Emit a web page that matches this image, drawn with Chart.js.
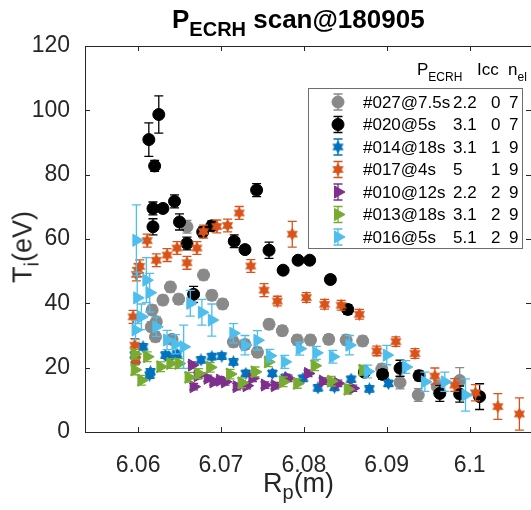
<!DOCTYPE html>
<html>
<head>
<meta charset="utf-8">
<script src="https://cdn.jsdelivr.net/npm/chart.js@4/dist/chart.umd.min.js"></script>
<style>
body { margin: 0; background: #fff; }
#wrap { position: relative; width: 531px; height: 510px; font-family: "Liberation Sans", Arial, sans-serif; color: #000; }
#myChart { position: absolute; left: 0; top: 0; }
.t { position: absolute; white-space: pre; line-height: 1; }
.sub { position: relative; }
</style>
</head>
<body>
<div id="wrap">
  <canvas id="myChart" width="531" height="510"></canvas>
  <div class="t" style="left:172px;top:6px;font-size:26px;font-weight:bold;">P<span class="sub" style="font-size:20px;top:8px;">ECRH</span> scan@180905</div>
  <div class="t" style="left:263px;top:470px;font-size:27px;color:#262626;">R<span class="sub" style="font-size:20px;top:7px;">p</span>(m)</div>
  <div class="t" style="left:23px;top:247px;font-size:27px;color:#262626;transform:translate(-50%,-50%) rotate(-90deg);">T<span class="sub" style="font-size:20px;top:7px;">i</span>(eV)</div>
  <div class="t" style="left:417px;top:61px;font-size:17px;">P<span class="sub" style="font-size:12px;top:6px;">ECRH</span></div>
  <div class="t" style="left:477px;top:61px;font-size:17px;">Icc</div>
  <div class="t" style="left:508px;top:61px;font-size:17px;">n<span class="sub" style="font-size:12px;top:6px;">el</span></div>
  <div id="legendText"></div>
</div>
<script>
const seriesNames = ['#027@7.5s', '#020@5s', '#014@18s', '#017@4s', '#010@12s', '#013@18s', '#016@5s'];
const pECRH = ['2.2', '3.1', '3.1', '5', '2.2', '3.1', '5.1'];
const icc = ['0', '0', '1', '1', '2', '2', '2'];
const nel = ['7', '7', '9', '9', '9', '9', '9'];
const xTicks = [6.06, 6.07, 6.08, 6.09, 6.1];
const xTickLabels = ['6.06', '6.07', '6.08', '6.09', '6.1'];
const yTicks = [0, 20, 40, 60, 80, 100, 120];

// #027@7.5s
const rGray = [6.0616, 6.0617, 6.0621, 6.0622, 6.0630, 6.0639, 6.0641, 6.0649, 6.0659, 6.0679, 6.0689, 6.0702, 6.0715, 6.0729, 6.0744, 6.0758, 6.0774, 6.0792, 6.0808, 6.0830, 6.0851, 6.0871, 6.0894, 6.0916, 6.0938, 6.0961, 6.0988];
const tGray = [32.7, 37.9, 29.6, 34.3, 41.0, 45.1, 28.8, 41.3, 63.8, 48.8, 42.5, 39.8, 28.0, 27.2, 24.8, 33.5, 31.5, 28.6, 28.6, 28.8, 28.6, 28.3, 19.6, 15.4, 11.5, 14.1, 16.0];
const eGray = [1.5, 1.5, 1.5, 1.5, 1.5, 1.5, 1.5, 1.5, 2, 1.5, 1.5, 1.5, 1.5, 1.5, 1.5, 1.5, 1.5, 1.5, 1.5, 1.5, 1.5, 1.5, 1.5, 2, 2, 2, 4];
// #020@5s
const rBlack = [6.0613, 6.0618, 6.0618, 6.0620, 6.0625, 6.0630, 6.0644, 6.0650, 6.0659, 6.0667, 6.0678, 6.0689, 6.0716, 6.0729, 6.0743, 6.0758, 6.0775, 6.0793, 6.0807, 6.0832, 6.0853, 6.0873, 6.0895, 6.0916, 6.0939, 6.0964, 6.0988, 6.1012];
const tBlack = [90.9, 69.5, 63.8, 82.7, 98.7, 69.5, 71.7, 65.3, 58.6, 42.8, 62.2, 64.1, 59.3, 56.7, 75.2, 56.5, 50.3, 53.4, 53.4, 47.4, 38.1, 18.6, 17.9, 19.8, 17.5, 12.0, 11.8, 11.0];
const eBlack = [5.2, 2, 2.5, 1.7, 5.8, 1, 2, 2.5, 2, 2.5, 1.5, 1.5, 2, 1, 2, 2.5, 1, 1, 1, 1, 1.5, 1, 1.5, 2.5, 1.5, 2.5, 2.5, 4];
// #014@18s
const rBlue = [6.0596, 6.0597, 6.0606, 6.0614, 6.0615, 6.0633, 6.0637, 6.0647, 6.0676, 6.0689, 6.0701, 6.0715, 6.0730, 6.0762, 6.0778, 6.0799, 6.0817, 6.0837, 6.0857, 6.0879, 6.0902];
const tBlue = [23.9, 22.4, 26.5, 17.7, 18.7, 23.9, 23.4, 24.2, 22.4, 23.4, 23.6, 21.8, 18.2, 18.2, 17.0, 16.7, 13.7, 13.9, 16.4, 13.4, 15.1];
const eBlue = [1, 1, 1, 1, 1, 1, 1, 1, 1, 1, 1, 1, 1, 1, 1, 1, 1, 1, 1, 1, 1];
// #017@4s
const rOrange = [6.0594, 6.0596, 6.0597, 6.0598, 6.0600, 6.0602, 6.0611, 6.0622, 6.0635, 6.0647, 6.0659, 6.0671, 6.0679, 6.0695, 6.0708, 6.0722, 6.0736, 6.0752, 6.0768, 6.0786, 6.0803, 6.0825, 6.0845, 6.0867, 6.0888, 6.0911, 6.0934, 6.0958, 6.0982, 6.1007, 6.1034, 6.1060];
const tOrange = [35.8, 27.0, 22.5, 49.0, 50.3, 51.5, 59.5, 53.4, 55.0, 57.2, 52.6, 57.2, 62.3, 63.9, 64.2, 68.1, 51.6, 44.1, 40.7, 61.5, 41.8, 39.7, 39.4, 36.6, 25.2, 28.1, 24.4, 17.4, 14.6, 12.2, 7.9, 5.6];
const eOrange = [2, 2, 1.5, 2, 2, 2, 2, 2, 2, 2, 2, 2, 2, 2, 2, 2, 2, 2, 1.5, 4, 1.5, 1.5, 1.5, 1.5, 1.5, 1.5, 1.5, 2.5, 2, 2.5, 4, 5];
// #010@12s
const rPurple = [6.0665, 6.0667, 6.0672, 6.0684, 6.0691, 6.0699, 6.0705, 6.0719, 6.0731, 6.0738, 6.0753, 6.0765, 6.0781, 6.0805, 6.0823, 6.0841, 6.0859];
const tPurple = [20.8, 14.1, 17.5, 16.7, 15.6, 16.1, 15.6, 14.1, 14.4, 16.7, 14.6, 14.4, 16.7, 18.2, 15.8, 15.1, 13.6];
const ePurple = [1, 1, 1, 1, 1, 1, 1, 1, 1, 1, 1, 1, 1, 1, 1, 1, 1];
// #013@18s
const rGreen = [6.0596, 6.0596, 6.0604, 6.0611, 6.0627, 6.0639, 6.0649, 6.0661, 6.0673, 6.0687, 6.0711, 6.0725, 6.0741, 6.0757, 6.0775, 6.0792, 6.0813, 6.0833, 6.0853, 6.0871];
const tGreen = [24.2, 19.3, 16.1, 23.4, 20.3, 21.3, 21.3, 17.0, 18.2, 20.1, 18.0, 15.3, 18.7, 21.8, 15.6, 15.1, 20.6, 15.8, 13.3, 19.2];
const eGreen = [1.5, 1.5, 1.5, 1.5, 1.5, 1.5, 1.5, 1.5, 1.5, 1.5, 1.5, 1.5, 1.5, 1.5, 1.5, 1.5, 1.5, 1.5, 1.5, 1.5];
// #016@5s
const rCyan = [6.0597, 6.0598, 6.0599, 6.0604, 6.0610, 6.0614, 6.0622, 6.0635, 6.0645, 6.0655, 6.0663, 6.0677, 6.0689, 6.0715, 6.0729, 6.0744, 6.0759, 6.0777, 6.0795, 6.0815, 6.0835, 6.0855, 6.0877, 6.0900, 6.0923, 6.0946, 6.0970, 6.0995];
const tCyan = [31.7, 59.6, 41.7, 35.8, 47.2, 43.3, 32.7, 28.6, 27.3, 26.5, 40.0, 37.2, 34.8, 30.7, 27.0, 28.5, 23.7, 21.8, 25.9, 24.6, 23.4, 27.0, 18.8, 23.9, 20.2, 15.6, 15.6, 11.5];
const eCyan = [3, 11, 8, 4, 7, 6, 3, 3, 3, 6.7, 4, 4, 5, 3, 3, 3, 2, 2, 2, 2, 2, 3, 2, 3, 2, 3, 3, 5];

const rData = [rGray, rBlack, rBlue, rOrange, rPurple, rGreen, rCyan];
const tData = [tGray, tBlack, tBlue, tOrange, tPurple, tGreen, tCyan];
const eData = [eGray, eBlack, eBlue, eOrange, ePurple, eGreen, eCyan];
const colors = ['#898989', '#000000', '#0072BD', '#D95319', '#7E2F8E', '#77AC30', '#4DBEEE'];

function makeStar(color, s) {
  const c = document.createElement('canvas');
  c.width = s; c.height = s;
  const g = c.getContext('2d');
  g.fillStyle = color;
  g.beginPath();
  for (let k = 0; k < 12; k++) {
    const a = -Math.PI / 2 + k * Math.PI / 6;
    const rr = k % 2 ? s / 2 * 0.58 : s / 2;
    g.lineTo(s / 2 + rr * Math.cos(a), s / 2 + rr * Math.sin(a));
  }
  g.closePath();
  g.fill();
  return c;
}

const styles = ['circle', 'circle', makeStar(colors[2], 13), makeStar(colors[3], 13), 'triangle', 'triangle', 'triangle'];
const rotations = [0, 0, 0, 0, 90, 90, 90];
const radii = [6, 6, 6.5, 6.5, 7, 7, 7];

const datasets = seriesNames.map((name, i) => ({
  label: name,
  data: rData[i].map((r, k) => ({x: r, y: tData[i][k]})),
  errors: eData[i],
  backgroundColor: colors[i],
  borderColor: colors[i],
  pointStyle: styles[i],
  pointRotation: rotations[i],
  pointRadius: radii[i],
  pointBorderWidth: 1,
  showLine: false,
  order: seriesNames.length - i
}));

const errorBars = {
  id: 'errorBars',
  beforeDatasetDraw(chart, args) {
    const ds = chart.data.datasets[args.index];
    const y = chart.scales.y;
    const ctx = chart.ctx;
    ctx.save();
    ctx.strokeStyle = ds.borderColor;
    ctx.lineWidth = 1.3;
    args.meta.data.forEach((pt, k) => {
      const v = ds.data[k].y, e = ds.errors[k];
      const top = y.getPixelForValue(v + e), bot = y.getPixelForValue(v - e);
      ctx.beginPath();
      ctx.moveTo(pt.x, top); ctx.lineTo(pt.x, bot);
      ctx.moveTo(pt.x - 4.5, top); ctx.lineTo(pt.x + 4.5, top);
      ctx.moveTo(pt.x - 4.5, bot); ctx.lineTo(pt.x + 4.5, bot);
      ctx.stroke();
    });
    ctx.restore();
  }
};

const frame = {
  id: 'frame',
  beforeDatasetsDraw(chart) {
    const {ctx, chartArea: a, scales: {x, y}} = chart;
    ctx.save();
    ctx.strokeStyle = '#262626';
    ctx.lineWidth = 1;
    ctx.strokeRect(a.left + 0.5, a.top + 0.5, a.right - a.left, a.bottom - a.top);
    ctx.beginPath();
    xTicks.forEach(v => {
      const px = Math.round(x.getPixelForValue(v)) + 0.5;
      ctx.moveTo(px, a.bottom); ctx.lineTo(px, a.bottom - 5);
      ctx.moveTo(px, a.top); ctx.lineTo(px, a.top + 5);
    });
    yTicks.forEach(v => {
      const py = Math.round(y.getPixelForValue(v)) + 0.5;
      ctx.moveTo(a.left, py); ctx.lineTo(a.left + 5, py);
      ctx.moveTo(a.right, py); ctx.lineTo(a.right - 5, py);
    });
    ctx.stroke();
    ctx.restore();
  }
};

const legendBox = {x: 308, y: 88, w: 214, h: 160, markX: 338, row0: 102, step: 22.5};

const legendPlugin = {
  id: 'legendPlugin',
  afterDraw(chart) {
    const ctx = chart.ctx;
    const b = legendBox;
    ctx.save();
    ctx.fillStyle = '#fff';
    ctx.fillRect(b.x, b.y, b.w, b.h);
    ctx.strokeStyle = '#6e6e6e';
    ctx.lineWidth = 1;
    ctx.strokeRect(b.x + 0.5, b.y + 0.5, b.w, b.h);
    chart.data.datasets.forEach((ds, i) => {
      const cy = b.row0 + i * b.step;
      ctx.strokeStyle = ds.borderColor;
      ctx.lineWidth = 1.3;
      ctx.beginPath();
      ctx.moveTo(b.markX, cy - 8); ctx.lineTo(b.markX, cy + 8);
      ctx.moveTo(b.markX - 4.5, cy - 8); ctx.lineTo(b.markX + 4.5, cy - 8);
      ctx.moveTo(b.markX - 4.5, cy + 8); ctx.lineTo(b.markX + 4.5, cy + 8);
      ctx.stroke();
      ctx.fillStyle = ds.backgroundColor;
      ctx.lineWidth = 1;
      Chart.helpers.drawPoint(ctx, {pointStyle: ds.pointStyle, rotation: ds.pointRotation, radius: ds.pointRadius, borderWidth: 1}, b.markX, cy);
    });
    ctx.restore();
  }
};

let html = '';
seriesNames.forEach((name, i) => {
  const top = legendBox.row0 + i * legendBox.step + 6 - 14.4;
  html += `<div class="t" style="left:363px;top:${top}px;font-size:17px;">${name}</div>`;
  html += `<div class="t" style="left:453px;top:${top}px;font-size:17px;">${pECRH[i]}</div>`;
  html += `<div class="t" style="left:491px;top:${top}px;font-size:17px;">${icc[i]}</div>`;
  html += `<div class="t" style="left:509px;top:${top}px;font-size:17px;">${nel[i]}</div>`;
});
document.getElementById('legendText').innerHTML = html;

const tickFont = {family: '"Liberation Sans", Arial, sans-serif', size: 23};

let myChart = new Chart(document.getElementById('myChart'), {
  type: 'scatter',
  data: {datasets: datasets},
  options: {
    responsive: false,
    animation: false,
    layout: {autoPadding: false, padding: {top: 46, right: 0, left: 0, bottom: 0}},
    plugins: {legend: {display: false}, tooltip: {enabled: false}},
    scales: {
      x: {
        type: 'linear',
        min: 6.0536,
        max: 6.1074,
        afterBuildTicks: s => { s.ticks = xTicks.map(v => ({value: v})); },
        afterFit: s => { s.height = 78; s.paddingLeft = 0; s.paddingRight = 0; },
        grid: {display: false},
        border: {display: false},
        ticks: {font: tickFont, color: '#262626', padding: 12, maxRotation: 0, autoSkip: false,
          callback: (v, idx) => xTickLabels[idx]}
      },
      y: {
        min: 0,
        max: 120,
        afterBuildTicks: s => { s.ticks = yTicks.map(v => ({value: v})); },
        afterFit: s => { s.width = 85; s.paddingTop = 0; s.paddingBottom = 0; },
        grid: {display: false},
        border: {display: false},
        ticks: {font: tickFont, color: '#262626', padding: 7, autoSkip: false,
          callback: (v, idx) => String(yTicks[idx])}
      }
    }
  },
  plugins: [frame, errorBars, legendPlugin]
});
</script>
</body>
</html>
